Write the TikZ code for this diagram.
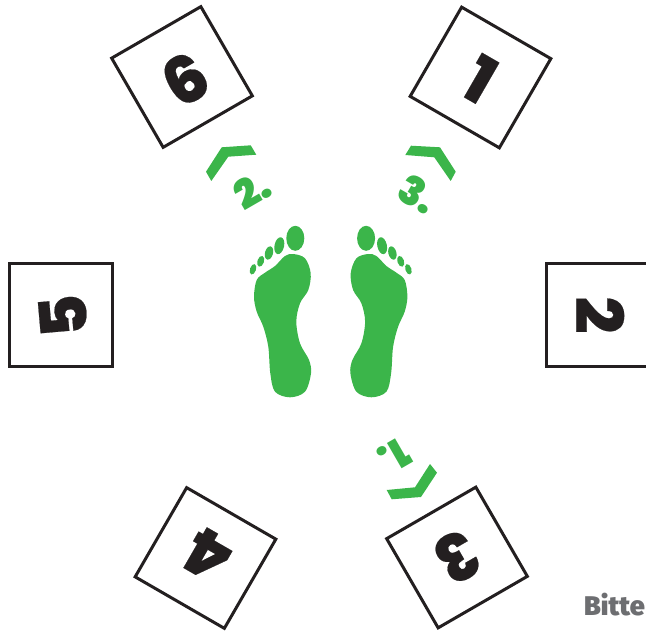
\documentclass[tikz,border=0pt]{standalone}
\usepackage{fontspec}
\setmainfont{Poppins}
\newfontfamily\numfont[UprightFont=* ExtraBold,FakeBold=0.3]{Poppins}
\newfontfamily\stepfont[UprightFont=* Black]{Poppins}
\newfontfamily\wmfont[UprightFont=* Black]{Fira Sans}
\definecolor{gr}{HTML}{3BB54A}
\definecolor{ink}{HTML}{231F20}
\definecolor{wm}{HTML}{6D6E71}
\tikzset{
 tile/.style={draw=ink,line width=3pt,minimum size=103pt,inner sep=0pt,fill=white},
 digit/.style={text=ink,font=\numfont\fontsize{65}{65}\selectfont,inner sep=0pt},
 stepnum/.style={text=gr,font=\stepfont\fontsize{40}{40}\selectfont,inner sep=0pt},
 chev/.style={fill=gr,draw=none},
 sole/.style={fill=gr,draw=none}
}
\newcommand{\footshape}{%
 \fill[sole] plot[smooth cycle,tension=0.55] coordinates {(293.3,254)(305,258.3)(310.7,273.3)(308.3,290)(300,303.3)(296.3,321.7)(300,343.3)(309,360)(311,373.3)(305,391.7)(290,397.3)(275,391.7)(270.3,373.3)(268.3,346.7)(263.3,326.7)(256.7,311.7)(254,296.7)(256.7,280)(265,272.7)(275,266)(285,256)};
 \fill[sole] (295.3,238.3) ellipse[x radius=9,y radius=12.5];
 \fill[sole,rotate around={-12:(279.3,245.7)}] (279.3,245.7) ellipse[x radius=4.8,y radius=8.6];
 \fill[sole,rotate around={-15:(269,253)}] (269,253) ellipse[x radius=4,y radius=6.8];
 \fill[sole,rotate around={-18:(260.7,261.3)}] (260.7,261.3) ellipse[x radius=3.3,y radius=5.6];
 \fill[sole,rotate around={-18:(253,269.3)}] (253,269.3) ellipse[x radius=3,y radius=5.4];
}
\begin{document}
\begin{tikzpicture}[x=1pt,y=-1pt]
\useasboundingbox (0,0) rectangle (646,631);
\clip (0,0) rectangle (646,631);
\node[tile,rotate=-30] (s1) at (480.5,77.5) {};
\node[tile,rotate=30] (s6) at (182,77) {};
\node[tile,rotate=-150] (s3) at (457,557.5) {};
\node[tile,rotate=150] (s4) at (205.5,558) {};
\node[tile] (s5) at (60.5,315) {};
\node[tile] (s2) at (598,315) {};
\node[digit,rotate=-30] (d1) at (480,79) {1};
\node[digit,rotate=-90] (d2) at (600,315) {2};
\node[digit,rotate=-150] (d3) at (457,557) {3};
\node[digit,rotate=150] (d4) at (208,555) {4};
\node[digit,rotate=95] (d5) at (63,316) {5};
\node[digit,rotate=30] (d6) at (185,79) {6};
\fill[chev] (206,171.7)--(221.7,147.3)--(250.7,145.3)--(256.3,154.7)--(228.3,156.7)--(211.3,181)--cycle;
\fill[chev] (405.3,155)--(411,145.7)--(440,147.3)--(455.7,171.7)--(450.7,181)--(434.3,157.3)--cycle;
\fill[chev] (386.7,490)--(415,487.3)--(430,464)--(437,472.7)--(421,497)--(391.7,499.3)--cycle;
\node[stepnum,rotate=30] (n2) at (252,190) {2.};
\node[stepnum,rotate=-30] (n3) at (418,194) {3.};
\node[stepnum,rotate=-150] (n1) at (394,456) {1.};
\footshape
\begin{scope}[xshift=661.4pt,xscale=-1]
\footshape
\end{scope}
\node[anchor=west,text=wm,inner sep=0pt,font=\wmfont\fontsize{27}{27}\selectfont] (wm) at (584,605) {Bitte};
\end{tikzpicture}
\end{document}
